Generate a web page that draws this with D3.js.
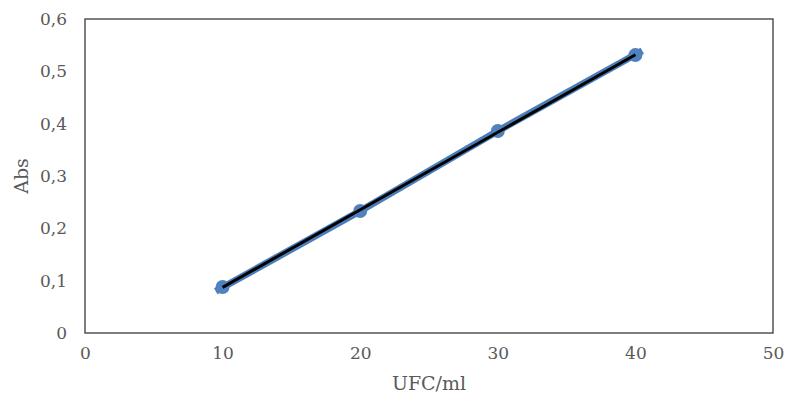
<!DOCTYPE html>
<html><head><meta charset="utf-8">
<script src="https://cdn.jsdelivr.net/npm/d3@7"></script>
<style>body{margin:0;background:#fff}svg{display:block}</style>
</head><body>
<script>
const xValues = [10, 20, 30, 40];
const absValues = [0.088, 0.233, 0.386, 0.531];
const xTicks = [0, 10, 20, 30, 40, 50];
const yTicks = [0, 0.1, 0.2, 0.3, 0.4, 0.5, 0.6];

const W = 787, H = 394;
const m = {l: 85, r: 14, t: 19, b: 61};
const svg = d3.select("body").append("svg").attr("width", W).attr("height", H);
const x = d3.scaleLinear().domain([0, 50]).range([m.l, W - m.r]);
const y = d3.scaleLinear().domain([0, 0.6]).range([H - m.b, m.t]);
const fmt = d => d === 0 ? "0" : d.toFixed(1).replace(".", ",");
const font = "'DejaVu Serif', serif";

svg.append("rect").attr("x", m.l).attr("y", m.t).attr("width", W - m.r - m.l).attr("height", H - m.b - m.t)
  .attr("fill", "none").attr("stroke", "#3a3a3a").attr("stroke-width", 1.3);

const xa = svg.append("g").attr("transform", `translate(0,${H - m.b})`)
  .call(d3.axisBottom(x).tickValues(xTicks).tickSize(0).tickPadding(14).tickFormat(d => d));
const ya = svg.append("g").attr("transform", `translate(${m.l},0)`)
  .call(d3.axisLeft(y).tickValues(yTicks).tickSize(0).tickPadding(18).tickFormat(fmt));
[xa, ya].forEach(a => {
  a.select(".domain").remove();
  a.selectAll("text").attr("fill", "#595959").style("font-family", font).style("font-size", "17px");
});

const pts = xValues.map((v, i) => [v, absValues[i]]);
// linear regression trendline
const mx = d3.mean(xValues), my = d3.mean(absValues);
const slope = d3.sum(pts, p => (p[0] - mx) * (p[1] - my)) / d3.sum(pts, p => (p[0] - mx) ** 2);
const icpt = my - slope * mx;

const line = d3.line().x(d => x(d[0])).y(d => y(d[1]));
svg.append("path").datum([[9.5, icpt + slope * 9.5], ...pts.slice(1, 3), [40.5, icpt + slope * 40.5]])
  .attr("d", line).attr("fill", "none").attr("stroke", "#4a7ebb").attr("stroke-width", 7);
svg.selectAll("circle.pt").data(pts).enter().append("circle")
  .attr("cx", d => x(d[0])).attr("cy", d => y(d[1])).attr("r", 7).attr("fill", "#4f81bd");
svg.append("path").datum([[10, icpt + slope * 10], [40, icpt + slope * 40]])
  .attr("d", line).attr("fill", "none").attr("stroke", "#000").attr("stroke-width", 3);

svg.append("text").attr("x", x(25)).attr("y", 390).attr("text-anchor", "middle")
  .attr("fill", "#595959").style("font-family", font).style("font-size", "19px").text("UFC/ml");
svg.append("text").attr("transform", `translate(28,176) rotate(-90)`).attr("text-anchor", "middle")
  .attr("fill", "#595959").style("font-family", font).style("font-size", "19px").text("Abs");
</script>
</body></html>
